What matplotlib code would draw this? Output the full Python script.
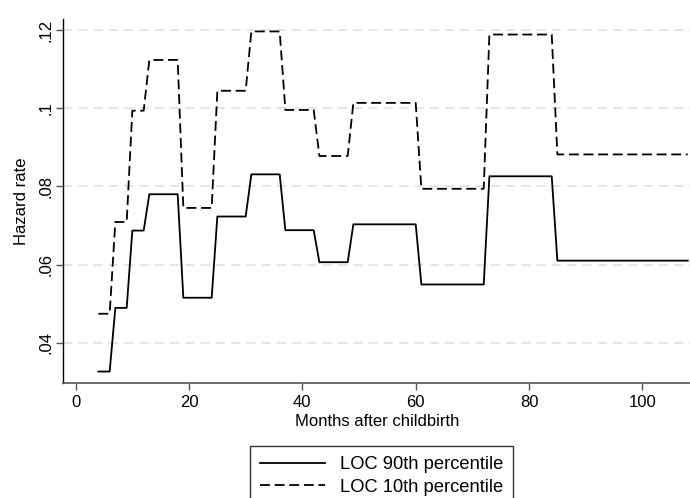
import matplotlib
matplotlib.use("Agg")
import matplotlib.pyplot as plt

plt.rcParams['font.family'] = ['Liberation Sans', 'DejaVu Sans']

# Plateau boundaries (months) and hazard values for each plateau
plateau_start = [4, 7, 10, 13, 19, 25, 31, 37, 43, 49, 61, 73, 85]
plateau_end = [6, 9, 12, 18, 24, 30, 36, 42, 48, 60, 72, 84, 108]
loc90 = [0.0326, 0.0489, 0.0687, 0.0780, 0.0515, 0.0723, 0.0831, 0.0688,
         0.0606, 0.0703, 0.0549, 0.0826, 0.0610]
loc10 = [0.0474, 0.0709, 0.0994, 0.1124, 0.0745, 0.1045, 0.1197, 0.0996,
         0.0878, 0.1014, 0.0794, 0.1189, 0.0882]

xticks = [0, 20, 40, 60, 80, 100]
yticks = [0.04, 0.06, 0.08, 0.10, 0.12]
ytick_labels = ['.04', '.06', '.08', '.1', '.12']


def knots(starts, ends, vals):
    xs, ys = [], []
    for s, e, v in zip(starts, ends, vals):
        xs += [s, e]
        ys += [v, v]
    return xs, ys


fig = plt.figure(figsize=(6.9, 4.98), dpi=100)
ax = fig.add_axes([0.092, 0.2315, 0.908, 0.7305])

x90, y90 = knots(plateau_start, plateau_end, loc90)
x10, y10 = knots(plateau_start, plateau_end, loc10)

ax.plot(x90, y90, color='black', lw=1.3, label='LOC 90th percentile', zorder=3)
ax.plot(x10, y10, color='black', lw=1.3, dashes=(5.5, 2.6), label='LOC 10th percentile', zorder=3)

ax.set_xlim(-2.15, 108.4)
ax.set_ylim(0.02974, 0.1229)

ax.set_xticks(xticks)
ax.set_yticks(yticks)
ax.set_yticklabels(ytick_labels, rotation=90, va='center')

ax.grid(axis='y', color='#dedede', lw=1.1, dashes=(6, 4))
ax.set_axisbelow(True)

for s in ['top', 'right']:
    ax.spines[s].set_visible(False)
ax.spines['left'].set_color('black')
ax.spines['bottom'].set_color('#555555')
ax.spines['left'].set_linewidth(1.0)
ax.spines['bottom'].set_linewidth(1.2)

ax.tick_params(axis='both', labelsize=12, color='#555555', length=5, width=1)
ax.tick_params(axis='y', pad=2)
ax.tick_params(axis='x', pad=4)

ax.set_xlabel('Months after childbirth', fontsize=12, labelpad=3)
ax.set_ylabel('Hazard rate', fontsize=12, labelpad=7)

leg = fig.legend(loc='upper center', bbox_to_anchor=(381.7 / 690, 1 - 446 / 498),
                 ncol=1, frameon=True, fancybox=False, fontsize=13.2,
                 handlelength=3.55, handletextpad=0.77, borderpad=0.55,
                 labelspacing=0.3, edgecolor='black', borderaxespad=0)
leg.get_frame().set_linewidth(1.0)

fig.savefig('out.png', dpi=100, facecolor='white')
